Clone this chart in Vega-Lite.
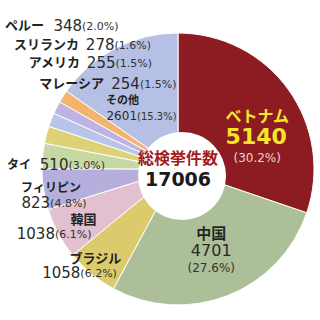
{
  "$schema": "https://vega.github.io/schema/vega-lite/v6.json",
  "autosize": {"type": "none"},
  "width": 284,
  "height": 302,
  "padding": {"left": 36, "top": 18, "right": 0, "bottom": 0},
  "background": "white",
  "config": {"view": {"stroke": null}},
  "data": {"values": [
    {"name": "ベトナム", "value": 5140, "pct": "(30.2%)", "ord": 1},
    {"name": "中国", "value": 4701, "pct": "(27.6%)", "ord": 2},
    {"name": "ブラジル", "value": 1058, "pct": "(6.2%)", "ord": 3},
    {"name": "韓国", "value": 1038, "pct": "(6.1%)", "ord": 4},
    {"name": "フィリピン", "value": 823, "pct": "(4.8%)", "ord": 5},
    {"name": "タイ", "value": 510, "pct": "(3.0%)", "ord": 6},
    {"name": "ペルー", "value": 348, "pct": "(2.0%)", "ord": 7},
    {"name": "スリランカ", "value": 278, "pct": "(1.6%)", "ord": 8},
    {"name": "アメリカ", "value": 255, "pct": "(1.5%)", "ord": 9},
    {"name": "マレーシア", "value": 254, "pct": "(1.5%)", "ord": 10},
    {"name": "その他", "value": 2601, "pct": "(15.3%)", "ord": 11}
  ]},
  "encoding": {
    "theta": {"field": "value", "type": "quantitative", "stack": true},
    "order": {"field": "ord", "type": "quantitative"}
  },
  "layer": [
    {
      "mark": {"type": "arc", "outerRadius": 136, "innerRadius": 0, "stroke": "white", "strokeWidth": 1},
      "encoding": {
        "color": {"field": "name", "type": "nominal", "legend": null,
          "scale": {
            "domain": ["ベトナム", "中国", "ブラジル", "韓国", "フィリピン", "タイ", "ペルー", "スリランカ", "アメリカ", "マレーシア", "その他"],
            "range": ["#8C1C22", "#ADBF98", "#DCCB6C", "#E3C0CF", "#B6AEDC", "#C7D8A3", "#DDD277", "#B8C4E8", "#BFB3E3", "#F3B56E", "#B5C0E4"]
          }}
      }
    },
    {
      "data": {"values": [{"name": "総検挙件数", "value": 17006, "ord": 1}]},
      "layer": [
        {"mark": {"type": "arc", "outerRadius": 44, "innerRadius": 0, "fill": "white", "xOffset": 4, "yOffset": 7}},
        {"mark": {"type": "text", "radius": 0, "dy": -10, "align": "center", "baseline": "middle", "font": "Noto Sans CJK JP", "fontWeight": "bold", "fontSize": 16, "color": "#A31A22"},
         "encoding": {"text": {"field": "name", "type": "nominal"}}},
        {"mark": {"type": "text", "radius": 0, "dy": 11, "align": "center", "baseline": "middle", "font": "DejaVu Sans", "fontWeight": "bold", "fontSize": 19, "color": "#1a1a1a"},
         "encoding": {"text": {"field": "value", "type": "nominal"}}}
      ]
    },

    {"mark": {"type": "text", "radius": 90, "dx": 6, "dy": 0, "align": "center", "baseline": "middle", "font": "Noto Sans CJK JP", "fontWeight": "bold", "fontSize": 16, "color": "#F5E52A"},
     "encoding": {"text": {"condition": {"test": "datum.name === 'ベトナム'", "field": "name", "type": "nominal"}, "value": ""}}},
    {"mark": {"type": "text", "radius": 90, "dx": 5, "dy": 20, "align": "center", "baseline": "middle", "font": "DejaVu Sans", "fontWeight": "bold", "fontSize": 22, "color": "#F5E52A"},
     "encoding": {"text": {"condition": {"test": "datum.name === 'ベトナム'", "field": "value", "type": "nominal"}, "value": ""}}},
    {"mark": {"type": "text", "radius": 90, "dx": 6, "dy": 41, "align": "center", "baseline": "middle", "font": "DejaVu Sans", "fontSize": 12, "color": "#EBD3D3"},
     "encoding": {"text": {"condition": {"test": "datum.name === 'ベトナム'", "field": "pct", "type": "nominal"}, "value": ""}}},

    {"mark": {"type": "text", "radius": 80, "dx": 4, "dy": -9, "align": "center", "baseline": "middle", "font": "Noto Sans CJK JP", "fontWeight": "bold", "fontSize": 15, "color": "#1f2a1f"},
     "encoding": {"text": {"condition": {"test": "datum.name === '中国'", "field": "name", "type": "nominal"}, "value": ""}}},
    {"mark": {"type": "text", "radius": 80, "dx": 4, "dy": 8, "align": "center", "baseline": "middle", "font": "DejaVu Sans", "fontSize": 16, "color": "#2a2a2a"},
     "encoding": {"text": {"condition": {"test": "datum.name === '中国'", "field": "value", "type": "nominal"}, "value": ""}}},
    {"mark": {"type": "text", "radius": 80, "dx": 4, "dy": 25, "align": "center", "baseline": "middle", "font": "DejaVu Sans", "fontSize": 12, "color": "#333333"},
     "encoding": {"text": {"condition": {"test": "datum.name === '中国'", "field": "pct", "type": "nominal"}, "value": ""}}},

    {"mark": {"type": "text", "radius": 100, "dx": -19, "dy": 13, "align": "center", "baseline": "middle", "font": "Noto Sans CJK JP", "fontWeight": "bold", "fontSize": 13, "color": "#222222"},
     "encoding": {"text": {"condition": {"test": "datum.name === 'ブラジル'", "field": "name", "type": "nominal"}, "value": ""}}},
    {"mark": {"type": "text", "radius": 100, "dx": -34, "dy": 27, "align": "right", "baseline": "middle", "font": "DejaVu Sans", "fontSize": 15, "color": "#2a2a2a"},
     "encoding": {"text": {"condition": {"test": "datum.name === 'ブラジル'", "field": "value", "type": "nominal"}, "value": ""}}},
    {"mark": {"type": "text", "radius": 100, "dx": -34, "dy": 28, "align": "left", "baseline": "middle", "font": "DejaVu Sans", "fontSize": 11, "color": "#333333"},
     "encoding": {"text": {"condition": {"test": "datum.name === 'ブラジル'", "field": "pct", "type": "nominal"}, "value": ""}}},

    {"mark": {"type": "text", "radius": 100, "dx": -6.5, "dy": 4, "align": "center", "baseline": "middle", "font": "Noto Sans CJK JP", "fontWeight": "bold", "fontSize": 13, "color": "#222222"},
     "encoding": {"text": {"condition": {"test": "datum.name === '韓国'", "field": "name", "type": "nominal"}, "value": ""}}},
    {"mark": {"type": "text", "radius": 100, "dx": -35, "dy": 18, "align": "right", "baseline": "middle", "font": "DejaVu Sans", "fontSize": 15, "color": "#2a2a2a"},
     "encoding": {"text": {"condition": {"test": "datum.name === '韓国'", "field": "value", "type": "nominal"}, "value": ""}}},
    {"mark": {"type": "text", "radius": 100, "dx": -35, "dy": 19, "align": "left", "baseline": "middle", "font": "DejaVu Sans", "fontSize": 11, "color": "#333333"},
     "encoding": {"text": {"condition": {"test": "datum.name === '韓国'", "field": "pct", "type": "nominal"}, "value": ""}}},

    {"mark": {"type": "text", "radius": 100, "dx": -58, "dy": 4, "align": "left", "baseline": "middle", "font": "Noto Sans CJK JP", "fontWeight": "bold", "fontSize": 12, "color": "#222222"},
     "encoding": {"text": {"condition": {"test": "datum.name === 'フィリピン'", "field": "name", "type": "nominal"}, "value": ""}}},
    {"mark": {"type": "text", "radius": 100, "dx": -29, "dy": 19, "align": "right", "baseline": "middle", "font": "DejaVu Sans", "fontSize": 15, "color": "#2a2a2a"},
     "encoding": {"text": {"condition": {"test": "datum.name === 'フィリピン'", "field": "value", "type": "nominal"}, "value": ""}}},
    {"mark": {"type": "text", "radius": 100, "dx": -29, "dy": 20, "align": "left", "baseline": "middle", "font": "DejaVu Sans", "fontSize": 11, "color": "#333333"},
     "encoding": {"text": {"condition": {"test": "datum.name === 'フィリピン'", "field": "pct", "type": "nominal"}, "value": ""}}},

    {"mark": {"type": "text", "radius": 100, "dx": -47.5, "dy": 5.6, "align": "right", "baseline": "middle", "font": "Noto Sans CJK JP", "fontWeight": "bold", "fontSize": 12, "color": "#222222"},
     "encoding": {"text": {"condition": {"test": "datum.name === 'タイ'", "field": "name", "type": "nominal"}, "value": ""}}},
    {"mark": {"type": "text", "radius": 100, "dx": -10, "dy": 5.6, "align": "right", "baseline": "middle", "font": "DejaVu Sans", "fontSize": 15, "color": "#2a2a2a"},
     "encoding": {"text": {"condition": {"test": "datum.name === 'タイ'", "field": "value", "type": "nominal"}, "value": ""}}},
    {"mark": {"type": "text", "radius": 100, "dx": -10, "dy": 6.5, "align": "left", "baseline": "middle", "font": "DejaVu Sans", "fontSize": 11, "color": "#333333"},
     "encoding": {"text": {"condition": {"test": "datum.name === 'タイ'", "field": "pct", "type": "nominal"}, "value": ""}}},

    {"mark": {"type": "text", "radius": 140, "dx": 1.5, "dy": -107.7, "align": "right", "baseline": "middle", "font": "Noto Sans CJK JP", "fontWeight": "bold", "fontSize": 13, "color": "#222222"},
     "encoding": {"text": {"condition": {"test": "datum.name === 'ペルー'", "field": "name", "type": "nominal"}, "value": ""}}},
    {"mark": {"type": "text", "radius": 140, "dx": 39.5, "dy": -107.7, "align": "right", "baseline": "middle", "font": "DejaVu Sans", "fontSize": 15, "color": "#2a2a2a"},
     "encoding": {"text": {"condition": {"test": "datum.name === 'ペルー'", "field": "value", "type": "nominal"}, "value": ""}}},
    {"mark": {"type": "text", "radius": 140, "dx": 39.5, "dy": -106.8, "align": "left", "baseline": "middle", "font": "DejaVu Sans", "fontSize": 11, "color": "#333333"},
     "encoding": {"text": {"condition": {"test": "datum.name === 'ペルー'", "field": "pct", "type": "nominal"}, "value": ""}}},

    {"mark": {"type": "text", "radius": 140, "dx": 31.5, "dy": -73.4, "align": "right", "baseline": "middle", "font": "Noto Sans CJK JP", "fontWeight": "bold", "fontSize": 13, "color": "#222222"},
     "encoding": {"text": {"condition": {"test": "datum.name === 'スリランカ'", "field": "name", "type": "nominal"}, "value": ""}}},
    {"mark": {"type": "text", "radius": 140, "dx": 67, "dy": -73.4, "align": "right", "baseline": "middle", "font": "DejaVu Sans", "fontSize": 15, "color": "#2a2a2a"},
     "encoding": {"text": {"condition": {"test": "datum.name === 'スリランカ'", "field": "value", "type": "nominal"}, "value": ""}}},
    {"mark": {"type": "text", "radius": 140, "dx": 67, "dy": -72.5, "align": "left", "baseline": "middle", "font": "DejaVu Sans", "fontSize": 11, "color": "#333333"},
     "encoding": {"text": {"condition": {"test": "datum.name === 'スリランカ'", "field": "pct", "type": "nominal"}, "value": ""}}},

    {"mark": {"type": "text", "radius": 140, "dx": 27, "dy": -42.7, "align": "right", "baseline": "middle", "font": "Noto Sans CJK JP", "fontWeight": "bold", "fontSize": 13, "color": "#222222"},
     "encoding": {"text": {"condition": {"test": "datum.name === 'アメリカ'", "field": "name", "type": "nominal"}, "value": ""}}},
    {"mark": {"type": "text", "radius": 140, "dx": 62.4, "dy": -42.7, "align": "right", "baseline": "middle", "font": "DejaVu Sans", "fontSize": 15, "color": "#2a2a2a"},
     "encoding": {"text": {"condition": {"test": "datum.name === 'アメリカ'", "field": "value", "type": "nominal"}, "value": ""}}},
    {"mark": {"type": "text", "radius": 140, "dx": 62.4, "dy": -41.8, "align": "left", "baseline": "middle", "font": "DejaVu Sans", "fontSize": 11, "color": "#333333"},
     "encoding": {"text": {"condition": {"test": "datum.name === 'アメリカ'", "field": "pct", "type": "nominal"}, "value": ""}}},

    {"mark": {"type": "text", "radius": 140, "dx": 44.3, "dy": -10.2, "align": "right", "baseline": "middle", "font": "Noto Sans CJK JP", "fontWeight": "bold", "fontSize": 13, "color": "#222222"},
     "encoding": {"text": {"condition": {"test": "datum.name === 'マレーシア'", "field": "name", "type": "nominal"}, "value": ""}}},
    {"mark": {"type": "text", "radius": 140, "dx": 80.3, "dy": -10.2, "align": "right", "baseline": "middle", "font": "DejaVu Sans", "fontSize": 15, "color": "#2a2a2a"},
     "encoding": {"text": {"condition": {"test": "datum.name === 'マレーシア'", "field": "value", "type": "nominal"}, "value": ""}}},
    {"mark": {"type": "text", "radius": 140, "dx": 80.3, "dy": -9.3, "align": "left", "baseline": "middle", "font": "DejaVu Sans", "fontSize": 11, "color": "#333333"},
     "encoding": {"text": {"condition": {"test": "datum.name === 'マレーシア'", "field": "pct", "type": "nominal"}, "value": ""}}},

    {"mark": {"type": "text", "radius": 80, "dx": -35, "dy": 3, "align": "left", "baseline": "middle", "font": "Noto Sans CJK JP", "fontWeight": "bold", "fontSize": 11, "color": "#222222"},
     "encoding": {"text": {"condition": {"test": "datum.name === 'その他'", "field": "name", "type": "nominal"}, "value": ""}}},
    {"mark": {"type": "text", "radius": 80, "dx": -4, "dy": 18, "align": "right", "baseline": "middle", "font": "DejaVu Sans", "fontSize": 12, "color": "#2a2a2a"},
     "encoding": {"text": {"condition": {"test": "datum.name === 'その他'", "field": "value", "type": "nominal"}, "value": ""}}},
    {"mark": {"type": "text", "radius": 80, "dx": -4, "dy": 18.5, "align": "left", "baseline": "middle", "font": "DejaVu Sans", "fontWeight": "normal", "fontSize": 10, "color": "#333333"},
     "encoding": {"text": {"condition": {"test": "datum.name === 'その他'", "field": "pct", "type": "nominal"}, "value": ""}}}
  ]
}
